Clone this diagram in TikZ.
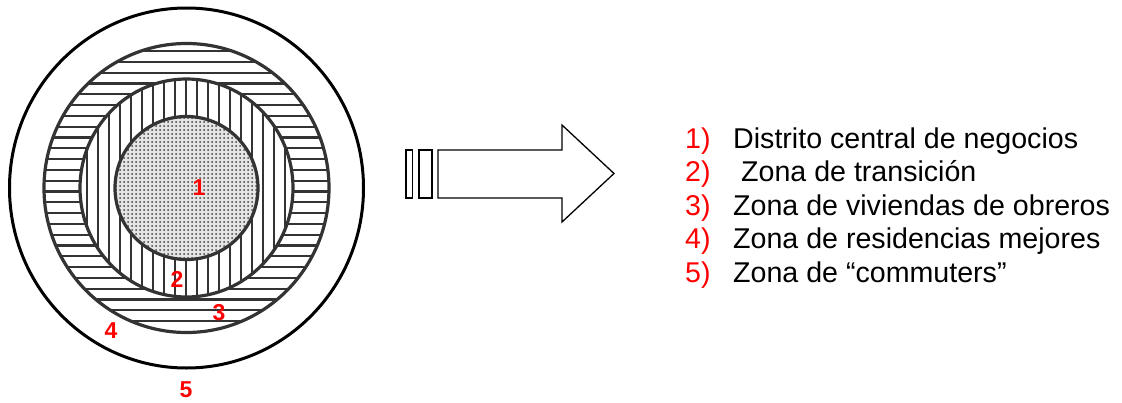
\documentclass[tikz,border=0pt]{standalone}
\usepackage{fontspec}
\setmainfont{Liberation Sans}
\usetikzlibrary{patterns}
\definecolor{ringgray}{HTML}{333333}
\pgfdeclarepatternformonly{citydots}{\pgfqpoint{-1pt}{-1pt}}{\pgfqpoint{3pt}{3pt}}{\pgfqpoint{4pt}{4pt}}{%
  \pgfpathcircle{\pgfqpoint{0pt}{0pt}}{1pt}\pgfusepath{fill}}
\tikzset{
  hatch/.style={ringgray,line width=2.3pt},
  ringline/.style={ringgray,line width=3.2pt},
  zonenum/.style={red,font=\fontsize{23}{26}\selectfont\bfseries}
}

\begin{document}
\begin{tikzpicture}[x=1pt,y=-1pt,font=\fontsize{28.6}{33}\selectfont]
\useasboundingbox (0,0) rectangle (1122,402);

\coordinate (c) at (186.5,188);

\begin{scope}
\clip (c) ellipse (142.5 and 144.5);
\foreach \k in {-15,...,14}
  \draw[hatch] (40,191.5+10.8*\k) -- (340,191.5+10.8*\k);
\end{scope}

\fill[white] (c) ellipse (106.5 and 109);
\begin{scope}
\clip (c) ellipse (106.5 and 109);
\foreach \k in {-10,...,10}
  \draw[hatch] (186+11*\k,70) -- (186+11*\k,310);
\end{scope}

\fill[gray!20] (c) circle (71.5);
\fill[pattern=citydots,pattern color=black!75] (c) circle (71.5);

\begin{scope}[ringline]
\draw (c) ellipse (142.5 and 144.5);
\draw (c) ellipse (106.5 and 109);
\draw (c) circle (71.5);
\end{scope}
\draw[line width=3pt] (c) ellipse (177 and 180);

\begin{scope}[zonenum]
\node (z1) at (199,188) {1};
\node (z2) at (177,279) {2};
\node (z3) at (219,313) {3};
\node (z4) at (111,331) {4};
\node (z5) at (186,390) {5};
\end{scope}

\begin{scope}[line width=1.3pt,line join=miter]
\draw (406,150) rectangle (412.7,198);
\draw (419,150) rectangle (432,198);
\draw (438,150) -- (562,150) -- (562,125) -- (614,173.5) -- (562,222)
  -- (562,198) -- (438,198) -- cycle;
\end{scope}

\foreach \i/\t in {1/Distrito central de negocios,2/{\ Zona de transición},
  3/Zona de viviendas de obreros,4/Zona de residencias mejores,
  5/Zona de “commuters”}{
\node[red,anchor=base west,inner sep=0pt] (num\i) at (685,148+33.6*\i-33.6) {\i)};
\node[anchor=base west,inner sep=0pt] (item\i) at (733,148+33.6*\i-33.6) {\t};
}

\end{tikzpicture}
\end{document}
